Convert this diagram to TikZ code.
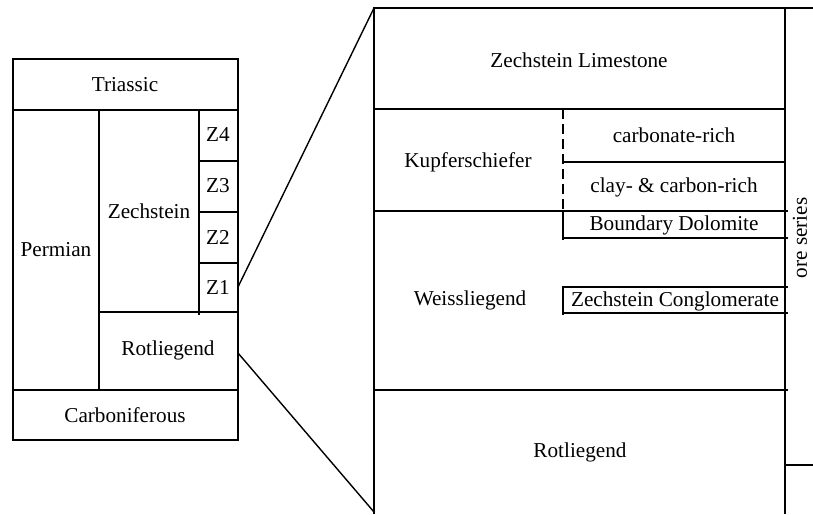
\documentclass[tikz,border=0pt]{standalone}
\usepackage{fontspec}
\setmainfont{Liberation Serif}
\begin{document}
\begin{tikzpicture}[x=0.5pt,y=-0.5pt,line width=0.7pt,
  lbl/.style={inner sep=0pt,font=\fontsize{10.6}{12}\selectfont}]
\useasboundingbox (0,0) rectangle (813,514);
% left column
\draw (13,59) rectangle (238,440);
\draw (13,110)--(238,110);
\draw (13,390)--(238,390);
\draw (99,110)--(99,390);
\draw (199,110)--(199,315);
\draw (199,161)--(238,161);
\draw (199,212)--(238,212);
\draw (199,263)--(238,263);
\draw (99,312)--(238,312);
\node[lbl] (tri) at (125,85) {Triassic};
\node[lbl] (perm) at (56,250) {Permian};
\node[lbl] (zech) at (149,211) {Zechstein};
\node[lbl] (zfour) at (218,135) {Z4};
\node[lbl] (zthree) at (218,186) {Z3};
\node[lbl] (ztwo) at (218,237) {Z2};
\node[lbl] (zone) at (218,287) {Z1};
\node[lbl] (rotl) at (168,350) {Rotliegend};
\node[lbl] (carb) at (125,415) {Carboniferous};
% right panel
\draw (813,8)--(374,8)--(374,514);
\draw (785,8)--(785,514);
\draw (374,109)--(785,109);
\draw (374,211)--(788,211);
\draw[dash pattern=on 5pt off 2.5pt] (563,109)--(563,211);
\draw (563,162)--(785,162);
\draw (563,211)--(563,240);
\draw (563,238)--(788,238);
\draw (563,315)--(563,287)--(788,287);
\draw (563,313)--(788,313);
\draw (374,390)--(788,390);
\draw (785,465)--(813,465);
\node[lbl] (zlime) at (579,60) {Zechstein Limestone};
\node[lbl] (kupf) at (468,162) {Kupferschiefer};
\node[lbl] (carbr) at (674,135) {carbonate-rich};
\node[lbl] (clay) at (674,187) {clay- \& carbon-rich};
\node[lbl] (bdol) at (674,225) {Boundary Dolomite};
\node[lbl] (weiss) at (470,300) {Weissliegend};
\node[lbl] (zcong) at (675,301) {Zechstein Conglomerate};
\node[lbl] (rotr) at (580,452) {Rotliegend};
\node[lbl,rotate=90] (ore) at (800,238) {ore series};
% zoom connectors
\coordinate (zoneend) at (238,287);
\coordinate (rotlend) at (238,353);
\coordinate (paneltop) at (374,8);
\coordinate (panelbot) at (374,512);
\draw (zoneend)--(paneltop);
\draw (rotlend)--(panelbot);
\end{tikzpicture}
\end{document}
